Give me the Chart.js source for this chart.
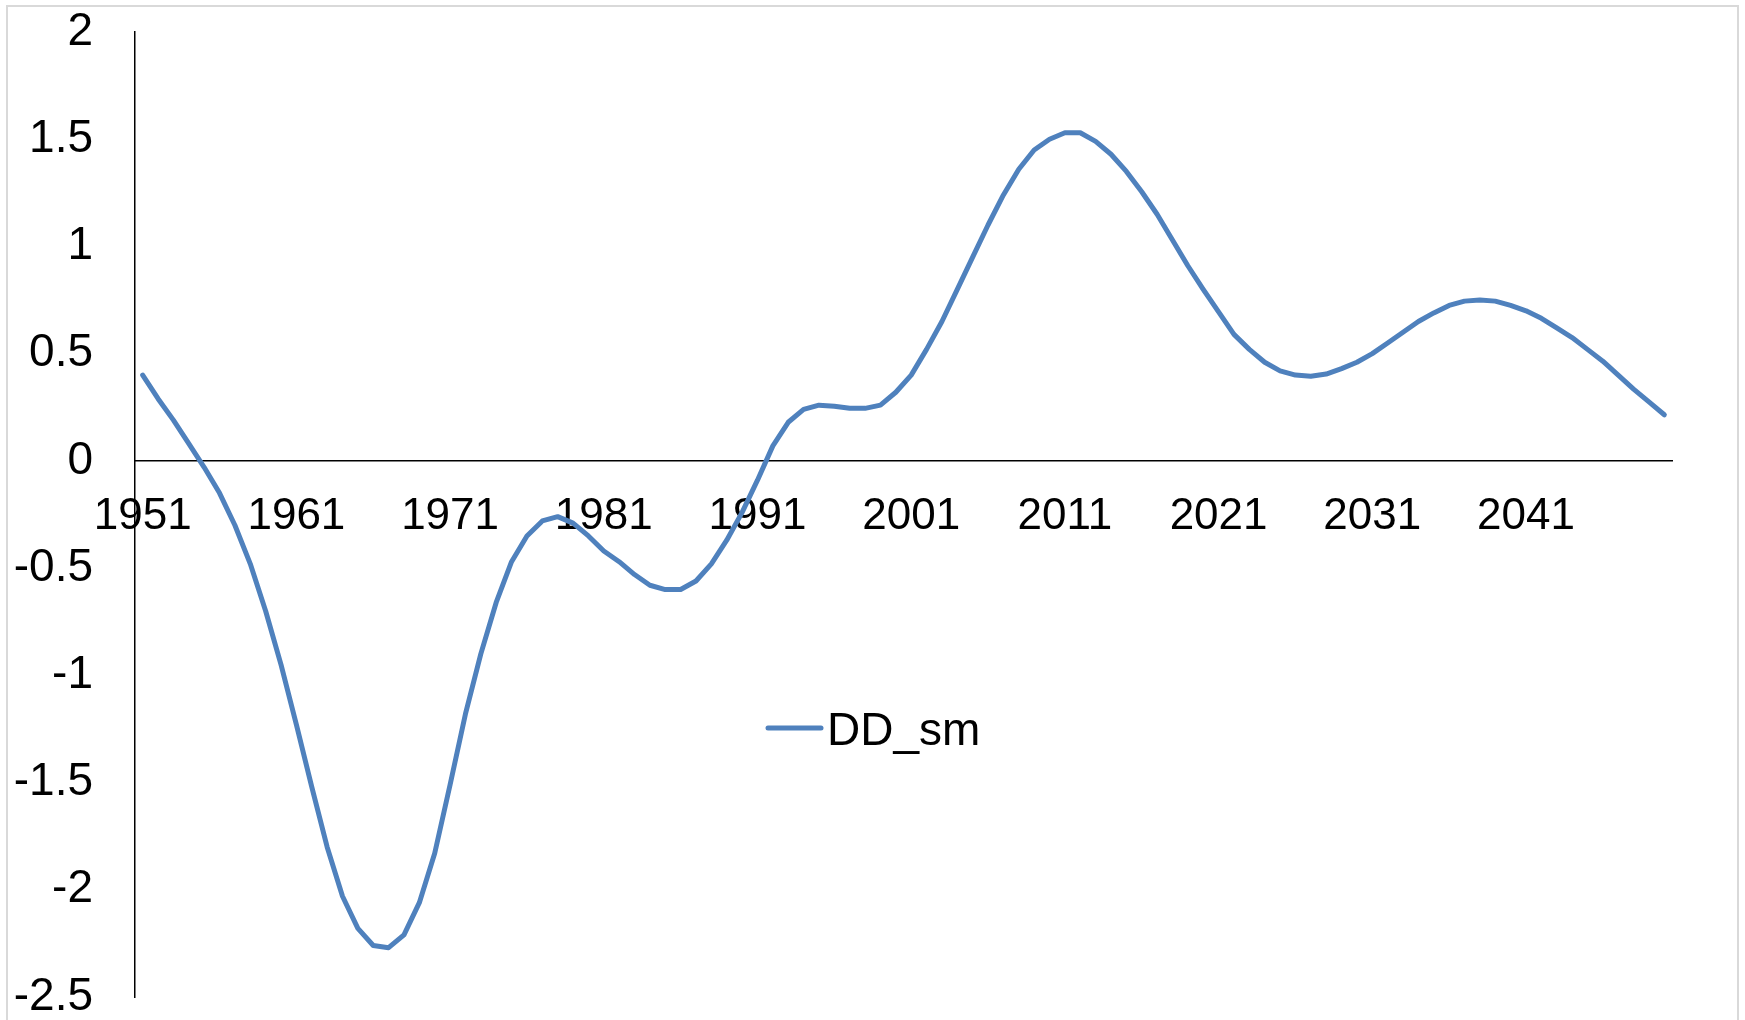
<!DOCTYPE html>
<html lang="en">
<head>
    <meta charset="UTF-8">
    <title>DD_sm</title>
    <style>
        html, body {
            margin: 0;
            padding: 0;
            background: #fff;
            overflow: hidden;
        }
        .chart-box {
            position: relative;
            width: 1745px;
            height: 1020px;
        }
    </style>
</head>
<body>

    <div class="chart-box">
        <canvas id="ddChart"></canvas>
    </div>

    <script src="https://cdn.jsdelivr.net/npm/chart.js"></script>
    <script>
        // years 1951..2050, one value per year
        const firstYear = 1951;
        const years = Array.from({ length: 100 }, (_, i) => String(firstYear + i));

        // labels Excel shows on the category axis
        const tickLabels = ['1951', '1961', '1971', '1981', '1991', '2001', '2011', '2021', '2031', '2041'];

        const seriesName = 'DD_sm';
        const ddSm = [
            0.40, 0.29, 0.19, 0.08, -0.03, -0.15, -0.30, -0.48, -0.70, -0.95,
            -1.23, -1.52, -1.80, -2.03, -2.18, -2.26, -2.27, -2.21, -2.06, -1.83,
            -1.51, -1.18, -0.90, -0.66, -0.47, -0.35, -0.28, -0.26, -0.29, -0.35,
            -0.42, -0.47, -0.53, -0.58, -0.60, -0.60, -0.56, -0.48, -0.37, -0.24,
            -0.09, 0.07, 0.18, 0.24, 0.26, 0.255, 0.245, 0.245, 0.26, 0.32,
            0.40, 0.52, 0.65, 0.80, 0.95, 1.10, 1.24, 1.36, 1.45, 1.50,
            1.53, 1.53, 1.49, 1.43, 1.35, 1.255, 1.15, 1.03, 0.91, 0.80,
            0.695, 0.59, 0.52, 0.46, 0.42, 0.40, 0.395, 0.405, 0.43, 0.46,
            0.50, 0.55, 0.60, 0.65, 0.69, 0.725, 0.745, 0.75, 0.745, 0.725,
            0.70, 0.665, 0.62, 0.575, 0.52, 0.465, 0.40, 0.335, 0.275, 0.215
        ];

        const yMin = -2.5;
        const yMax = 2;
        const yStep = 0.5;

        const FONT = '"Liberation Sans", Arial, sans-serif';
        const LINE_COLOR = '#4F81BD';

        // light grey frame round the whole chart, like the Excel chart area border
        const framePlugin = {
            id: 'frame',
            beforeDraw(chart) {
                const ctx = chart.ctx;
                ctx.save();
                ctx.strokeStyle = '#d9d9d9';
                ctx.lineWidth = 2;
                ctx.strokeRect(7, 6, chart.width - 14, chart.height + 40);
                ctx.restore();
            }
        };

        // legend sits inside the plot, below the curve
        const legendPlugin = {
            id: 'innerLegend',
            afterDraw(chart) {
                const ds = chart.data.datasets[0];
                const ctx = chart.ctx;
                const x = 768, y = 728;
                ctx.save();
                ctx.strokeStyle = ds.borderColor;
                ctx.lineWidth = ds.borderWidth;
                ctx.lineCap = 'round';
                ctx.beginPath();
                ctx.moveTo(x, y);
                ctx.lineTo(x + 53, y);
                ctx.stroke();
                ctx.fillStyle = '#000';
                ctx.font = '46px ' + FONT;
                ctx.textBaseline = 'alphabetic';
                ctx.fillText(ds.label, x + 59, y + 17);
                ctx.restore();
            }
        };

        function renderChart() {
            const ctx = document.getElementById('ddChart').getContext('2d');
            new Chart(ctx, {
                type: 'line',
                data: {
                    labels: years,
                    datasets: [{
                        label: seriesName,
                        data: ddSm,
                        borderColor: LINE_COLOR,
                        backgroundColor: LINE_COLOR,
                        borderWidth: 5,
                        borderCapStyle: 'round',
                        borderJoinStyle: 'round',
                        pointRadius: 0,
                        tension: 0,
                        fill: false
                    }]
                },
                options: {
                    responsive: true,
                    maintainAspectRatio: false,
                    animation: false,
                    events: [],
                    layout: {
                        padding: { top: 32, right: 73, bottom: 23, left: 0 }
                    },
                    plugins: {
                        legend: { display: false },
                        tooltip: { enabled: false }
                    },
                    scales: {
                        x: {
                            type: 'category',
                            position: { y: 0 },
                            offset: true,
                            grid: { display: false, drawTicks: false, offset: true },
                            border: { display: true, color: '#000', width: 1.5 },
                            // axis crosses at 0, so it should not eat layout space
                            afterFit: (scale) => { scale.height = 0; },
                            ticks: {
                                autoSkip: false,
                                maxRotation: 0,
                                minRotation: 0,
                                padding: 30,
                                color: '#000',
                                font: { family: FONT, size: 44 },
                                callback: function (value) {
                                    const lab = this.getLabelForValue(value);
                                    return tickLabels.includes(lab) ? lab : '';
                                }
                            }
                        },
                        y: {
                            min: yMin,
                            max: yMax,
                            grid: { display: false, drawTicks: false },
                            border: { display: true, color: '#000', width: 1.5 },
                            afterFit: (scale) => {
                                scale.width = 135;
                                // the label padding must not push the plot down
                                scale.paddingTop = 0;
                                scale.paddingBottom = 0;
                            },
                            ticks: {
                                stepSize: yStep,
                                padding: 42,
                                color: '#000',
                                font: { family: FONT, size: 46 },
                                callback: (v) => String(v)
                            }
                        }
                    }
                },
                plugins: [framePlugin, legendPlugin]
            });
        }

        document.addEventListener('DOMContentLoaded', renderChart);
    </script>

</body>
</html>
